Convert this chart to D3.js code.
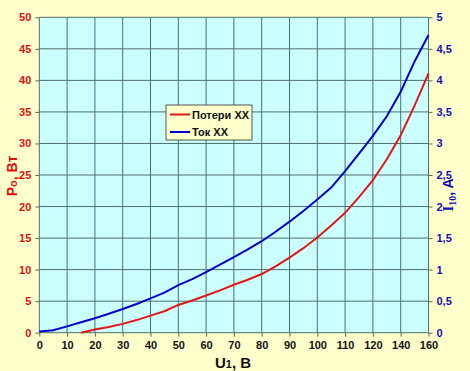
<!DOCTYPE html>
<html>
<head>
<meta charset="utf-8">
<script src="https://cdn.jsdelivr.net/npm/d3@7"></script>
<style>
  body { margin: 0; background: #ffffcc; }
  svg { display: block; }
</style>
</head>
<body>
<svg id="chart"></svg>
<script>
// data
const voltage = [0, 5, 10, 15, 20, 25, 30, 35, 40, 45, 50, 55, 60, 65, 70, 75, 80, 85, 90, 95, 100, 105, 110, 115, 120, 130, 140, 150, 160];
const losses = [null, null, null, 0, 0.5, 0.9, 1.4, 2.0, 2.7, 3.4, 4.4, 5.1, 5.9, 6.7, 7.6, 8.4, 9.3, 10.5, 11.9, 13.4, 15.1, 17.0, 19.0, 21.5, 24.2, 27.5, 31.3, 36.0, 41.1];
const current = [0.02, 0.04, 0.1, 0.165, 0.23, 0.3, 0.375, 0.455, 0.545, 0.635, 0.755, 0.85, 0.96, 1.08, 1.2, 1.32, 1.45, 1.6, 1.76, 1.93, 2.11, 2.3, 2.56, 2.84, 3.12, 3.43, 3.82, 4.3, 4.72];
const xLabels = [0, 10, 20, 30, 40, 50, 60, 70, 80, 90, 100, 110, 120, 140, 160];
const leftTicks = [0, 5, 10, 15, 20, 25, 30, 35, 40, 45, 50];
const rightTicks = [0, 0.5, 1, 1.5, 2, 2.5, 3, 3.5, 4, 4.5, 5];
const seriesNames = ['Потери ХХ', 'Ток ХХ'];

const width = 470;
const height = 371;
const plotLeft = 39.3, plotRight = 428.5, plotTop = 17.3, plotBottom = 332.7;

const svg = d3.select('#chart')
  .attr('width', width)
  .attr('height', height);

svg.append('rect')
  .attr('width', width).attr('height', height)
  .attr('fill', '#ffffcc');

// x is a category axis: labelled points are evenly spaced, halves between them
const xLabelScale = d3.scalePoint()
  .domain(xLabels)
  .range([plotLeft, plotRight]);

const xPos = (v) => {
  const i = xLabels.findIndex((l) => l >= v);
  if (xLabels[i] === v) return xLabelScale(v);
  return (xLabelScale(xLabels[i - 1]) + xLabelScale(xLabels[i])) / 2;
};

const yLeft = d3.scaleLinear().domain([0, 50]).range([plotBottom, plotTop]);
const yRight = d3.scaleLinear().domain([0, 5]).range([plotBottom, plotTop]);

// plot area
svg.append('rect')
  .attr('x', plotLeft).attr('y', plotTop)
  .attr('width', plotRight - plotLeft).attr('height', plotBottom - plotTop)
  .attr('fill', '#ccffff');

const grid = svg.append('g').attr('stroke', '#4f6f6c').attr('stroke-width', 1);
grid.selectAll('.vgrid')
  .data(xLabels.slice(1, -1))
  .enter().append('line')
  .attr('x1', (d) => xLabelScale(d)).attr('x2', (d) => xLabelScale(d))
  .attr('y1', plotTop).attr('y2', plotBottom);
grid.selectAll('.hgrid')
  .data(leftTicks.slice(1))
  .enter().append('line')
  .attr('x1', plotLeft).attr('x2', plotRight)
  .attr('y1', (d) => yLeft(d)).attr('y2', (d) => yLeft(d));

// axes
const xAxis = d3.axisBottom(xLabelScale).tickSize(4).tickPadding(5);
const leftAxis = d3.axisLeft(yLeft).tickValues(leftTicks).tickSize(4).tickPadding(4);
const rightAxis = d3.axisRight(yRight).tickValues(rightTicks).tickSize(4).tickPadding(4)
  .tickFormat((d) => String(d).replace('.', ','));

const gx = svg.append('g')
  .attr('transform', `translate(0, ${plotBottom})`)
  .call(xAxis);
const gl = svg.append('g')
  .attr('transform', `translate(${plotLeft}, 0)`)
  .call(leftAxis);
const gr = svg.append('g')
  .attr('transform', `translate(${plotRight}, 0)`)
  .call(rightAxis);

[gx, gl, gr].forEach((g) => {
  g.select('.domain').remove();
  g.selectAll('.tick line').attr('stroke', '#4f6f6c');
  g.selectAll('text')
    .style('font-family', 'Arial, "Liberation Sans", sans-serif')
    .style('font-weight', 'bold')
    .style('font-size', '11px');
});
gx.selectAll('text').attr('fill', '#111');
gl.selectAll('text').attr('fill', '#e01010');
gr.selectAll('text').attr('fill', '#1010b0');

svg.append('line')
  .attr('x1', plotLeft).attr('x2', plotLeft).attr('y1', plotTop).attr('y2', plotBottom)
  .attr('stroke', '#4f6f6c');
svg.append('line')
  .attr('x1', plotRight).attr('x2', plotRight).attr('y1', plotTop).attr('y2', plotBottom)
  .attr('stroke', '#4f6f6c');
svg.append('line')
  .attr('x1', plotLeft).attr('x2', plotRight).attr('y1', plotBottom).attr('y2', plotBottom)
  .attr('stroke', '#4f6f6c');

// lines
const lossLine = d3.line()
  .defined((d) => d[1] !== null)
  .x((d) => xPos(d[0]))
  .y((d) => yLeft(d[1]));
const currentLine = d3.line()
  .x((d) => xPos(d[0]))
  .y((d) => yRight(d[1]));

svg.append('path')
  .datum(voltage.map((v, i) => [v, losses[i]]))
  .attr('d', lossLine)
  .attr('fill', 'none')
  .attr('stroke', '#e01818')
  .attr('stroke-width', 2);

svg.append('path')
  .datum(voltage.map((v, i) => [v, current[i]]))
  .attr('d', currentLine)
  .attr('fill', 'none')
  .attr('stroke', '#0000cc')
  .attr('stroke-width', 2);

// axis titles
const leftTitle = svg.append('text')
  .attr('transform', 'translate(17, 176) rotate(-90)')
  .attr('text-anchor', 'middle')
  .attr('fill', '#e01010')
  .style('font-family', 'Arial, "Liberation Sans", sans-serif')
  .style('font-weight', 'bold')
  .style('font-size', '14px');
leftTitle.append('tspan').text('P');
leftTitle.append('tspan').text('о').style('font-size', '11px');
leftTitle.append('tspan').text(', Вт');

const rightTitle = svg.append('text')
  .attr('transform', 'translate(453, 195) rotate(-90)')
  .attr('text-anchor', 'middle')
  .attr('fill', '#1010b0')
  .style('font-family', '"Liberation Serif", "Times New Roman", serif')
  .style('font-weight', 'bold')
  .style('font-size', '15px');
rightTitle.append('tspan').text('I');
rightTitle.append('tspan').text('10').attr('dy', 3).style('font-size', '10px');
rightTitle.append('tspan').text(', A').attr('dy', -3)
  .style('font-family', 'Arial, "Liberation Sans", sans-serif')
  .style('font-size', '14px');

const bottomTitle = svg.append('text')
  .attr('x', 233).attr('y', 368)
  .attr('text-anchor', 'middle')
  .attr('fill', '#111')
  .style('font-family', 'Arial, "Liberation Sans", sans-serif')
  .style('font-weight', 'bold')
  .style('font-size', '15px');
bottomTitle.append('tspan').text('U');
bottomTitle.append('tspan').text('1').style('font-size', '11px');
bottomTitle.append('tspan').text(', В');

// legend
const legend = svg.append('g').attr('transform', 'translate(166, 105)');
legend.append('rect')
  .attr('width', 86).attr('height', 35)
  .attr('fill', '#ffffcc')
  .attr('stroke', '#555').attr('stroke-width', 1);
const legendColors = ['#e01818', '#0000cc'];
seriesNames.forEach((name, i) => {
  const y = 9.5 + i * 17.5;
  legend.append('line')
    .attr('x1', 4).attr('x2', 24).attr('y1', y).attr('y2', y)
    .attr('stroke', legendColors[i]).attr('stroke-width', 2);
  legend.append('text')
    .attr('x', 26).attr('y', y + 4)
    .attr('fill', '#111')
    .style('font-family', 'Arial, "Liberation Sans", sans-serif')
    .style('font-weight', 'bold')
    .style('font-size', '11px')
    .text(name);
});
</script>
</body>
</html>
